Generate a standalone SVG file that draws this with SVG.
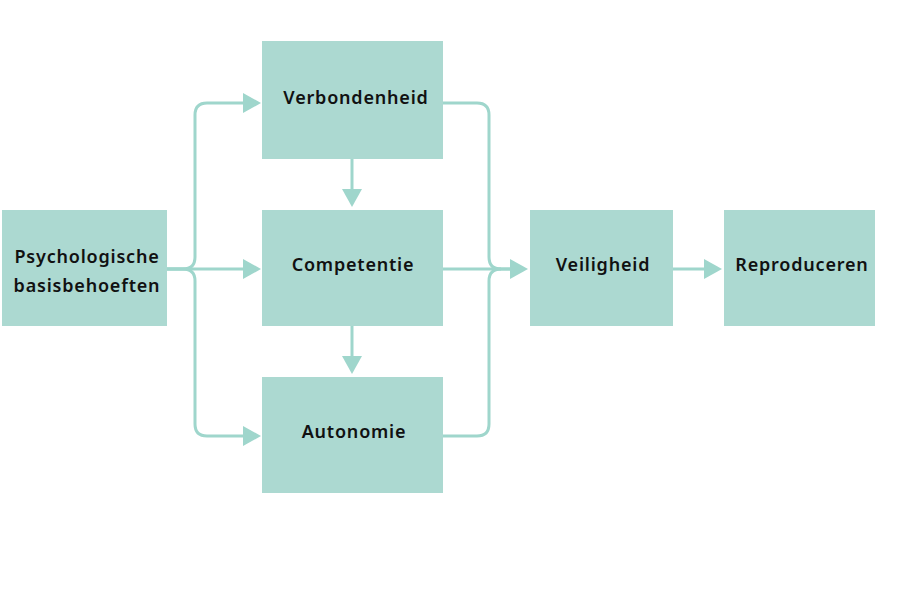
<svg xmlns="http://www.w3.org/2000/svg" width="901" height="601" viewBox="0 0 901 601">
<defs>
<style>
.box{fill:#acd9d1;}
.lbl{font-family:"Noto Sans","Liberation Sans",sans-serif;font-weight:600;font-size:18px;letter-spacing:0.8px;fill:#111;text-anchor:middle;}
.con{fill:none;stroke:#9fd6cc;stroke-width:3;}
.ah{fill:#9fd6cc;}
</style>
</defs>
<rect x="0" y="0" width="901" height="601" fill="#ffffff"/>
<g id="connectors">
<path class="con" d="M167,269 H183 Q195,269 195,257 V115 Q195,103 207,103 H245"/>
<path class="con" d="M167,269 H245"/>
<path class="con" d="M167,269 H183 Q195,269 195,281 V424 Q195,436 207,436 H245"/>
<polygon class="ah" points="243,93 261,103 243,113"/>
<polygon class="ah" points="243,259 261,269 243,279"/>
<polygon class="ah" points="243,426 261,436 243,446"/>
<path class="con" d="M352,159 V192"/>
<polygon class="ah" points="342,189 352,207 362,189"/>
<path class="con" d="M352,326 V359"/>
<polygon class="ah" points="342,356 352,374 362,356"/>
<path class="con" d="M443,103 H477 Q489,103 489,115 V257 Q489,269 501,269 H512"/>
<path class="con" d="M443,269 H512"/>
<path class="con" d="M443,436 H477 Q489,436 489,424 V281 Q489,269 501,269"/>
<polygon class="ah" points="510,259 528,269 510,279"/>
<path class="con" d="M673,269 H707"/>
<polygon class="ah" points="704,259 722,269 704,279"/>
</g>
<g id="node-psychologische">
<rect class="box" x="2" y="210" width="165" height="116"/>
<text class="lbl" x="87" y="263">Psychologische</text>
<text class="lbl" x="87" y="292">basisbehoeften</text>
</g>
<g id="node-verbondenheid">
<rect class="box" x="262" y="41" width="181" height="118"/>
<text class="lbl" x="356" y="104">Verbondenheid</text>
</g>
<g id="node-competentie">
<rect class="box" x="262" y="210" width="181" height="116"/>
<text class="lbl" x="353" y="271">Competentie</text>
</g>
<g id="node-autonomie">
<rect class="box" x="262" y="377" width="181" height="116"/>
<text class="lbl" x="354" y="438">Autonomie</text>
</g>
<g id="node-veiligheid">
<rect class="box" x="530" y="210" width="143" height="116"/>
<text class="lbl" x="603" y="271">Veiligheid</text>
</g>
<g id="node-reproduceren">
<rect class="box" x="724" y="210" width="151" height="116"/>
<text class="lbl" x="802" y="271">Reproduceren</text>
</g>
</svg>
